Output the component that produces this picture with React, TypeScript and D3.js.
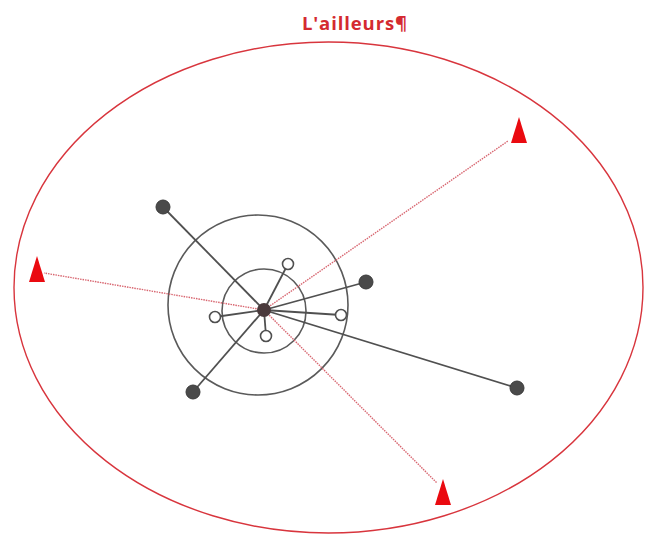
import React, { useEffect, useRef } from 'react';
import * as d3 from 'd3';

// hub of the diagram, everything else is offset from it
const hub = { x: 264, y: 310 };

// rings around the hub: [dx, dy, r]
const rings = [
  { dx: 0, dy: 1, r: 42 },
  { dx: -6, dy: -5, r: 90 },
];

// filled dots (linked to the hub)
const filledDots = [
  { dx: -101, dy: -103 },
  { dx: 102, dy: -28 },
  { dx: -71, dy: 82 },
  { dx: 253, dy: 78 },
];

// hollow dots (close ones)
const hollowDots = [
  { dx: 24, dy: -46 },
  { dx: -49, dy: 7 },
  { dx: 2, dy: 26 },
  { dx: 77, dy: 5 },
];

// red triangles "ailleurs": triangle centre, and where the dotted line stops
const elsewhere = [
  { dx: -227, dy: -38, lx: -220, ly: -37 },
  { dx: 255, dy: -177, lx: 244, ly: -169 },
  { dx: 179, dy: 185, lx: 173, ly: 173 },
];

const title = "L'ailleurs¶";

const Chart = () => {
  const svgRef = useRef<SVGSVGElement>(null);

  useEffect(() => {
    const w = 646;
    const h = 538;
    const svg = d3.select(svgRef.current).attr('width', w).attr('height', h);
    svg.selectAll('*').remove();

    const x = d3.scaleLinear().domain([-hub.x, w - hub.x]).range([0, w]);
    const y = d3.scaleLinear().domain([-hub.y, h - hub.y]).range([0, h]);

    // big ellipse
    svg.append('ellipse')
      .attr('cx', 328.5).attr('cy', 287.5)
      .attr('rx', 314.5).attr('ry', 245.5)
      .attr('fill', 'none').attr('stroke', '#d8353d').attr('stroke-width', 1.4);

    svg.append('text')
      .attr('x', 355).attr('y', 30)
      .attr('text-anchor', 'middle')
      .attr('font-family', '"Open Sans", sans-serif')
      .attr('font-weight', 'bold')
      .attr('font-size', 18.5)
      .attr('letter-spacing', 0.9)
      .attr('fill', '#d42a30')
      .text(title);

    // rings
    svg.selectAll('.ring').data(rings).join('circle')
      .attr('class', 'ring')
      .attr('cx', d => x(d.dx)).attr('cy', d => y(d.dy)).attr('r', d => d.r)
      .attr('fill', 'none').attr('stroke', '#5a5a5a').attr('stroke-width', 1.6);

    // dotted red links
    svg.selectAll('.far').data(elsewhere).join('line')
      .attr('class', 'far')
      .attr('x1', x(0)).attr('y1', y(0))
      .attr('x2', d => x(d.lx)).attr('y2', d => y(d.ly))
      .attr('stroke', '#d86670').attr('stroke-width', 1.4)
      .attr('stroke-dasharray', '1.5,1');

    // grey links
    const all = [...filledDots, ...hollowDots];
    svg.selectAll('.link').data(all).join('line')
      .attr('class', 'link')
      .attr('x1', x(0)).attr('y1', y(0))
      .attr('x2', d => x(d.dx)).attr('y2', d => y(d.dy))
      .attr('stroke', '#505050').attr('stroke-width', 1.8);

    svg.selectAll('.hollow').data(hollowDots).join('circle')
      .attr('class', 'hollow')
      .attr('cx', d => x(d.dx)).attr('cy', d => y(d.dy)).attr('r', 5.5)
      .attr('fill', '#fff').attr('stroke', '#505050').attr('stroke-width', 1.6);

    svg.selectAll('.filled').data(filledDots).join('circle')
      .attr('class', 'filled')
      .attr('cx', d => x(d.dx)).attr('cy', d => y(d.dy)).attr('r', 7)
      .attr('fill', '#4a4a4a').attr('stroke', '#3a3a3a').attr('stroke-width', 1);

    svg.append('circle')
      .attr('cx', x(0)).attr('cy', y(0)).attr('r', 7)
      .attr('fill', '#4a3a3c');

    // triangles
    const tri = (cx: number, cy: number) =>
      `M${cx},${cy - 16} L${cx + 8},${cy + 10} L${cx - 8},${cy + 10} Z`;
    svg.selectAll('.tri').data(elsewhere).join('path')
      .attr('class', 'tri')
      .attr('d', d => tri(x(d.dx), y(d.dy)))
      .attr('fill', '#ea0a10');
  }, []);

  return <svg ref={svgRef} style={{ position: 'absolute', left: 0, top: 0, background: '#fff' }}></svg>;
};

export default function App() {
  return <Chart />;
}
